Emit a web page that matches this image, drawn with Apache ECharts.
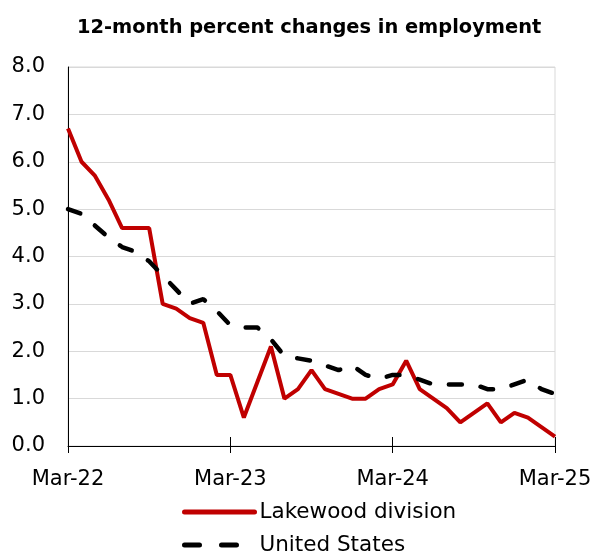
<!DOCTYPE html>
<html><head><meta charset="utf-8">
<script src="https://cdn.jsdelivr.net/npm/echarts@6/dist/echarts.min.js"></script>
<style>html,body{margin:0;padding:0;background:#fff}#c{width:595px;height:552px}</style>
</head><body><div id="c"></div>
<script>
const months = ['Mar-22','Apr-22','May-22','Jun-22','Jul-22','Aug-22','Sep-22','Oct-22','Nov-22','Dec-22',
'Jan-23','Feb-23','Mar-23','Apr-23','May-23','Jun-23','Jul-23','Aug-23','Sep-23','Oct-23','Nov-23','Dec-23',
'Jan-24','Feb-24','Mar-24','Apr-24','May-24','Jun-24','Jul-24','Aug-24','Sep-24','Oct-24','Nov-24','Dec-24',
'Jan-25','Feb-25','Mar-25'];
const lakewood = [6.7,6.0,5.7,5.2,4.6,4.6,4.6,3.0,2.9,2.7,2.6,1.5,1.5,0.6,1.35,2.1,1.0,1.2,1.6,1.2,1.1,1.0,1.0,1.2,1.3,1.8,1.2,1.0,0.8,0.5,0.7,0.9,0.5,0.7,0.6,0.4,0.2];
const unitedStates = [5.0,4.9,4.65,4.4,4.2,4.1,3.9,3.6,3.3,3.0,3.1,2.85,2.55,2.5,2.5,2.25,1.9,1.85,1.8,1.7,1.6,1.7,1.5,1.42,1.5,1.5,1.4,1.3,1.3,1.3,1.3,1.2,1.2,1.3,1.4,1.2,1.1];
const yTicks = [0,1,2,3,4,5,6,7,8];
const FONT = 'DejaVu Sans';
const chart = echarts.init(document.getElementById('c'), null, {renderer:'canvas'});
const showIdx = (i) => i % 12 === 0;
const legendCommon = {orient:'vertical',left:182,itemWidth:70,itemHeight:14,padding:0,itemGap:0,
  itemStyle:{opacity:0},
  textStyle:{fontFamily:FONT,fontSize:21.5,color:'#000'}};
chart.setOption({
  animation:false,
  title:{text:'12-month percent changes in employment',left:72,top:13,
    textStyle:{fontFamily:FONT,fontSize:19.4,fontWeight:'bold',color:'#000'}},
  grid:{left:68,right:40,top:67,bottom:106,show:true,borderColor:'#d9d9d9',borderWidth:1},
  legend:[Object.assign({top:501,data:['Lakewood division'],
            lineStyle:{width:5,cap:'round'}},legendCommon),
          Object.assign({top:534,data:['United States'],
            lineStyle:{width:5,type:[15,22],cap:'round'}},legendCommon)],
  xAxis:[{type:'category',data:months,boundaryGap:false,
    axisLine:{lineStyle:{color:'#000',width:1}},
    axisTick:{interval:(i)=>showIdx(i),length:7,lineStyle:{color:'#000'}},
    axisLabel:{interval:(i)=>showIdx(i),fontFamily:FONT,fontSize:21,color:'#000',margin:23},
    splitLine:{show:false}},
   {type:'category',data:months,boundaryGap:false,position:'bottom',
    axisLine:{show:false},
    axisTick:{inside:true,interval:(i)=>showIdx(i),length:9,lineStyle:{color:'#000'}},
    axisLabel:{show:false},splitLine:{show:false}}],
  yAxis:{type:'value',min:0,max:8,interval:1,
    axisLine:{show:true,lineStyle:{color:'#000'}},
    axisTick:{show:false},
    axisLabel:{fontFamily:FONT,fontSize:21,color:'#000',margin:23,formatter:(v)=>v.toFixed(1)},
    splitLine:{lineStyle:{color:'#d9d9d9',width:1}}},
  series:[
    {name:'Lakewood division',type:'line',data:lakewood,symbol:'none',
      lineStyle:{color:'#c00000',width:4},itemStyle:{color:'#c00000'},z:3},
    {name:'United States',type:'line',data:unitedStates,symbol:'none',
      lineStyle:{color:'#000',width:4.5,type:[13,19],cap:'round'},itemStyle:{color:'#000'},z:4}
  ]
});
</script></body></html>
